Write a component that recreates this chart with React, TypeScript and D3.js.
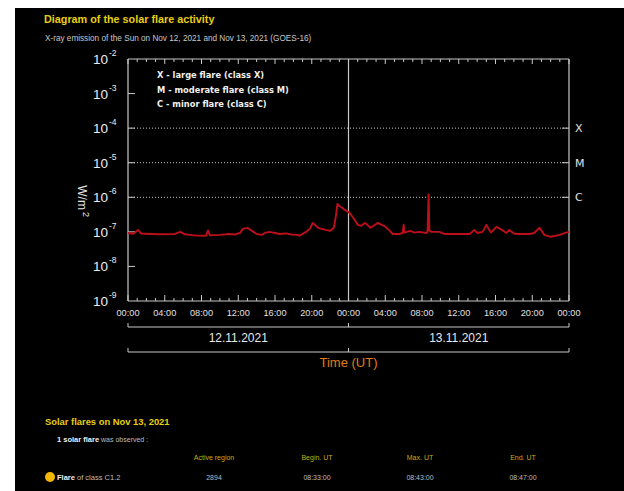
import React from "react";
import * as d3 from "d3";

// GOES-16 X-ray flux, hours since Nov 12 00:00 UT, W/m2
const hours = [
  0, 0.6, 1.1, 1.4, 2.4, 3.5, 5.1, 5.7, 6.2, 6.7, 7.5, 8.5, 8.7, 8.9, 10.0, 11.0, 11.6, 12.2, 12.5, 13.0,
  13.5, 14.0, 14.6, 14.9, 15.4, 16.0, 16.5, 17.2, 17.8, 18.4, 18.7, 19.0, 19.4, 19.8, 20.1, 20.7, 21.1, 21.5,
  22.0, 22.4, 22.6, 22.8, 23.0, 23.3, 23.6, 24.0, 24.5, 25.0, 25.4, 25.8, 26.4, 27.2, 27.6, 27.9, 28.5, 28.8,
  29.6, 29.9, 30.0, 30.1, 30.7, 31.2, 31.7, 32.5, 32.6, 32.72, 32.8, 33.0, 33.9, 34.4, 35.5, 37.2, 37.7, 38.0,
  38.6, 39.0, 39.5, 40.1, 40.7, 41.2, 41.5, 42.0, 42.4, 43.7, 44.2, 44.8, 45.3, 46.0, 47.0, 47.6, 48.0,
];
const flux = [
  9.3e-8, 8.8e-8, 1.14e-7, 9.0e-8, 8.7e-8, 8.5e-8, 8.7e-8, 1.0e-7, 8.5e-8, 8.2e-8, 7.8e-8, 7.7e-8, 1.1e-7, 8.0e-8,
  8.2e-8, 8.7e-8, 8.4e-8, 9.3e-8, 1.22e-7, 1.31e-7, 1.07e-7, 8.7e-8, 8.2e-8, 9.3e-8, 1.0e-7, 9.3e-8, 8.7e-8, 9.0e-8,
  8.4e-8, 8.2e-8, 7.7e-8, 8.7e-8, 1.0e-7, 1.22e-7, 1.82e-7, 1.31e-7, 1.22e-7, 1.14e-7, 1.07e-7, 1.31e-7, 2.6e-7,
  6.4e-7, 5.6e-7, 5.0e-7, 4.3e-7, 3.8e-7, 2.6e-7, 1.6e-7, 1.5e-7, 1.82e-7, 1.31e-7, 1.82e-7, 1.6e-7, 1.49e-7,
  1.07e-7, 8.7e-8, 8.7e-8, 9.3e-8, 1.6e-7, 9.5e-8, 1.07e-7, 9.5e-8, 1.0e-7, 9.3e-8, 1.0e-7, 1.2e-6, 1.1e-7, 1.0e-7,
  1.0e-7, 8.7e-8, 8.7e-8, 8.7e-8, 1.14e-7, 9.3e-8, 1.0e-7, 1.59e-7, 9.5e-8, 1.4e-7, 1.14e-7, 9.3e-8, 1.14e-7,
  9.0e-8, 8.7e-8, 8.7e-8, 9.3e-8, 1.31e-7, 8.2e-8, 7.2e-8, 8.2e-8, 9.3e-8, 1.0e-7,
];

const exponents = [-2, -3, -4, -5, -6, -7, -8, -9];
const classLevels = [
  { label: "X", value: 1e-4 },
  { label: "M", value: 1e-5 },
  { label: "C", value: 1e-6 },
];
const legendLines = ["X - large flare (class X)", "M - moderate flare (class M)", "C - minor flare (class C)"];
const timeLabels = ["00:00", "04:00", "08:00", "12:00", "16:00", "20:00", "00:00", "04:00", "08:00", "12:00", "16:00", "20:00", "00:00"];
const days = ["12.11.2021", "13.11.2021"];

const tableHeaders = ["Active region", "Begin. UT", "Max. UT", "End. UT"];
const flareRow = ["2894", "08:33:00", "08:43:00", "08:47:00"];
const tableCols = [214, 317, 420, 523];

const SANS = "'Liberation Sans', Arial, sans-serif";
const VERD = "'DejaVu Sans', Verdana, sans-serif";

export default function App() {
  const W = 624, H = 491;
  const left = 128, right = 569, top = 59, bottom = 301;
  const x = d3.scaleLinear().domain([0, 48]).range([left, right]);
  const y = d3.scaleLog().domain([1e-9, 1e-2]).range([bottom, top]);
  const pts = hours.map((h, i) => [h, flux[i]] as [number, number]);
  const line = d3.line<[number, number]>().x(d => x(d[0])).y(d => y(d[1]));
  const hourTicks = d3.range(0, 49);
  const axisColor = "#c8c8c8";

  return (
    <svg width={W} height={H} style={{ position: "absolute", left: 0, top: 0, background: "#fff" }}>
      <rect x={15} y={8} width={W - 15} height={H - 8} fill="#000" />

      <text x={44} y={23} fill="#e6cf14" fontFamily={SANS} fontWeight="bold" fontSize={10.8}>
        Diagram of the solar flare activity
      </text>
      <text x={45} y={41} fill="#c8c8c8" fontFamily={SANS} fontSize={8.2}>
        X-ray emission of the Sun on Nov 12, 2021 and Nov 13, 2021 (GOES-16)
      </text>

      {/* gridlines at class levels */}
      {classLevels.map(c => (
        <g key={c.label}>
          <line x1={left} x2={right} y1={y(c.value)} y2={y(c.value)} stroke={axisColor} strokeWidth={1} strokeDasharray="1,2" />
          <line x1={right - 7} x2={right} y1={y(c.value)} y2={y(c.value)} stroke={axisColor} strokeWidth={1} />
          <text x={575} y={y(c.value) + 4} fill="#e0e0e0" fontFamily={VERD} fontSize={11}>{c.label}</text>
        </g>
      ))}

      {/* left decade ticks and labels */}
      {exponents.map(e => (
        <g key={e}>
          {e !== -2 && e !== -9 && (
            <line x1={left} x2={left + 7} y1={y(Math.pow(10, e))} y2={y(Math.pow(10, e))} stroke={axisColor} strokeWidth={1} />
          )}
          <text x={93} y={y(Math.pow(10, e)) + 5} fill="#ececec" fontFamily={SANS} fontSize={13.5}>
            10
            <tspan dx={1} dy={-8} fontSize={8.5}>{e}</tspan>
          </text>
        </g>
      ))}

      {/* hour ticks top and bottom */}
      {hourTicks.map(h => {
        const big = h % 4 === 0;
        return (
          <g key={h}>
            <line x1={x(h)} x2={x(h)} y1={top} y2={top + (big ? 5 : 3)} stroke={axisColor} strokeWidth={1} />
            <line x1={x(h)} x2={x(h)} y1={bottom} y2={bottom - (big ? 6 : 3)} stroke={axisColor} strokeWidth={1} />
          </g>
        );
      })}

      {/* frame */}
      <line x1={left} x2={right} y1={top} y2={top} stroke={axisColor} strokeWidth={1.2} />
      <line x1={left} x2={right} y1={bottom} y2={bottom} stroke={axisColor} strokeWidth={1.2} />
      <line x1={left} x2={left} y1={top} y2={bottom} stroke={axisColor} strokeWidth={1.2} />
      <line x1={right} x2={right} y1={top} y2={bottom} stroke={axisColor} strokeWidth={1.2} />
      <line x1={x(24)} x2={x(24)} y1={top} y2={bottom} stroke={axisColor} strokeWidth={1.2} />

      {/* legend */}
      {legendLines.map((t, i) => (
        <text key={t} x={157} y={78 + i * 14.5} fill="#f0f0f0" fontFamily={VERD} fontWeight="bold" fontSize={8.3}>{t}</text>
      ))}

      {/* flux curve */}
      <path d={line(pts) ?? ""} fill="none" stroke="#bd0f1a" strokeWidth={1.9} strokeLinejoin="round" />

      {/* y axis title */}
      <text transform={`translate(78,${y(1e-6) - 12}) rotate(90)`} fill="#e8e8e8" fontFamily={SANS} fontSize={12}>
        W/m
        <tspan dx={2} dy={-5} fontSize={9}>2</tspan>
      </text>

      {/* time tick labels */}
      {timeLabels.map((t, i) => (
        <text key={i} x={x(i * 4)} y={316} textAnchor="middle" fill="#e0e0e0" fontFamily={SANS} fontSize={9.2}>{t}</text>
      ))}

      {/* day brackets */}
      {[327, 352].map(by => (
        <g key={by}>
          <line x1={left} x2={right} y1={by} y2={by} stroke={axisColor} strokeWidth={1} />
          {[0, 24, 48].map(h => (
            <line key={h} x1={x(h)} x2={x(h)} y1={by} y2={by - 4} stroke={axisColor} strokeWidth={1} />
          ))}
        </g>
      ))}
      {days.map((d, i) => (
        <text key={d} x={x(i * 24 + 12)} y={342} textAnchor="middle" fill="#e8e8e8" fontFamily={SANS} fontSize={12}>{d}</text>
      ))}
      <text x={x(24)} y={367} textAnchor="middle" fill="#e07c12" fontFamily={SANS} fontSize={13}>Time (UT)</text>

      {/* flare table */}
      <text x={45} y={425} fill="#e6cf14" fontFamily={SANS} fontWeight="bold" fontSize={9.4}>Solar flares on Nov 13, 2021</text>
      <text x={57} y={442} fill="#bdbdbd" fontFamily={SANS} fontSize={7}>
        <tspan fontWeight="bold" fill="#f0f0f0" fontSize={7.5}>1 solar flare</tspan> was observed :
      </text>
      {tableHeaders.map((t, i) => (
        <text key={t} x={tableCols[i]} y={460} textAnchor="middle" fill="#c8aa10" fontFamily={SANS} fontSize={7}>{t}</text>
      ))}
      <circle cx={50} cy={477} r={5} fill="#f2b705" />
      <text x={57} y={480} fill="#bdbdbd" fontFamily={SANS} fontSize={7.5}>
        <tspan fontWeight="bold" fill="#f0f0f0">Flare</tspan> of class C1.2
      </text>
      {flareRow.map((t, i) => (
        <text key={i} x={tableCols[i]} y={480} textAnchor="middle" fill="#bdbdbd" fontFamily={SANS} fontSize={7}>{t}</text>
      ))}
    </svg>
  );
}
